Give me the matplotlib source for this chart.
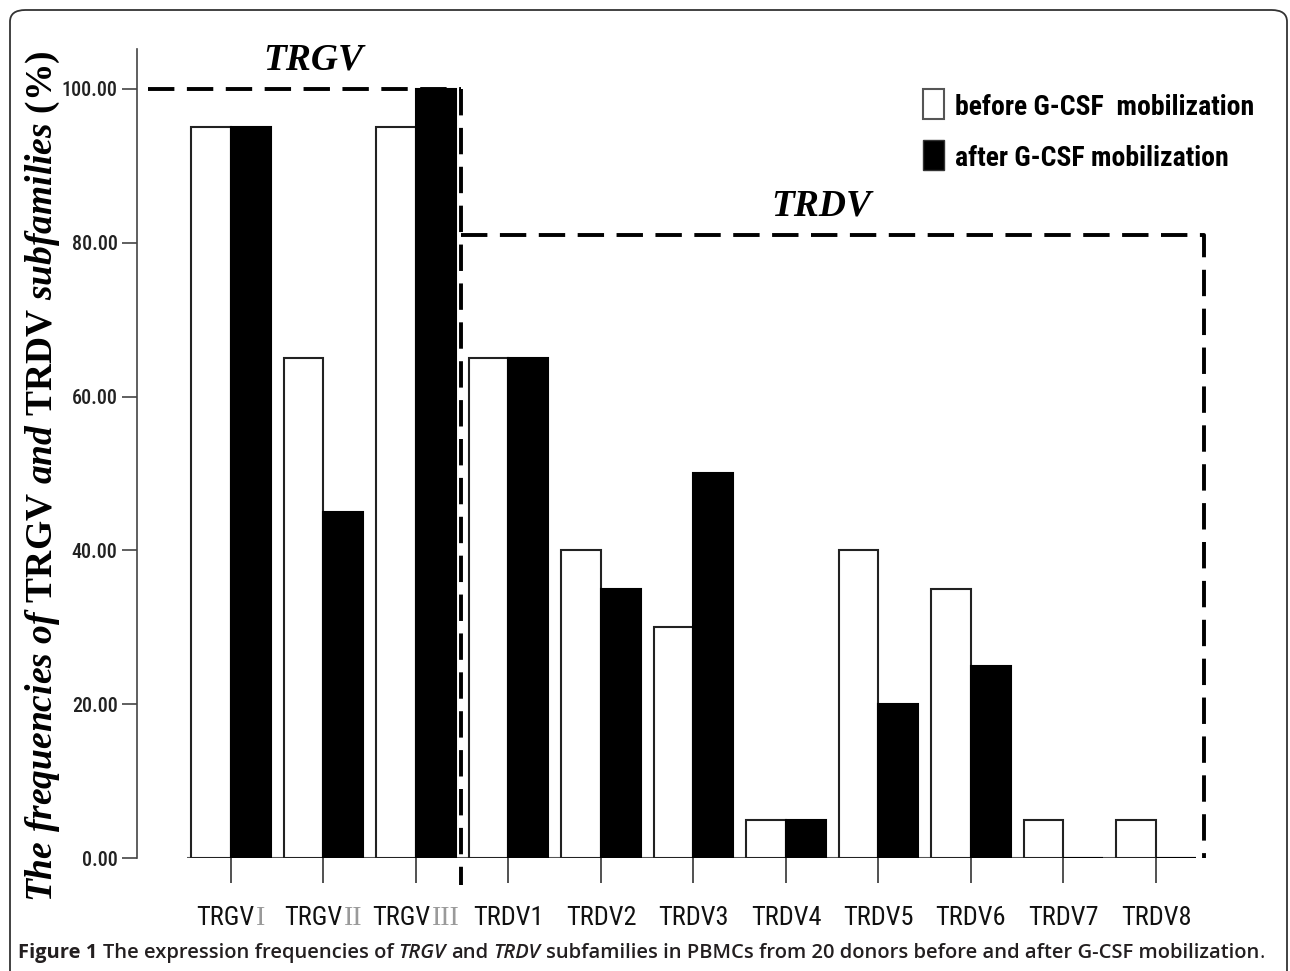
import matplotlib
matplotlib.use("Agg")
import matplotlib.pyplot as plt
from matplotlib.patches import Rectangle, FancyBboxPatch
import numpy as np

# --- data ---
categories = ["TRGV", "TRGV", "TRGV", "TRDV1", "TRDV2", "TRDV3", "TRDV4",
              "TRDV5", "TRDV6", "TRDV7", "TRDV8"]
numerals = ["I", "II", "III", "", "", "", "", "", "", "", ""]
before = [95, 65, 95, 65, 40, 30, 5, 40, 35, 5, 5]
after = [95, 45, 100, 65, 35, 50, 5, 20, 25, 0, 0]
series_labels = ["before G-CSF  mobilization", "after G-CSF mobilization"]
y_ticks = [0, 20, 40, 60, 80, 100]
trgv_level = 100
trdv_level = 81
group_names = ["TRGV", "TRDV"]

NARROW = ["Roboto Condensed", "DejaVu Sans"]

plt.rcParams["lines.scale_dashes"] = False
plt.rcParams["mathtext.fontset"] = "custom"
plt.rcParams["mathtext.rm"] = "Liberation Serif:bold"
plt.rcParams["mathtext.bf"] = "Liberation Serif:bold"
plt.rcParams["mathtext.it"] = "Liberation Serif:italic:bold"

W, H = 1290, 971
fig = plt.figure(figsize=(W / 100, H / 100), dpi=100)
renderer = fig.canvas.get_renderer()


def fx(px):
    return px / W


def fy(py):
    return 1 - py / H


# outer rounded frame
frame = FancyBboxPatch((fx(10), fy(1000)), fx(1287) - fx(10), fy(10) - fy(1000),
                       boxstyle="round,pad=0,rounding_size=0.012",
                       transform=fig.transFigure, facecolor="none",
                       edgecolor="#333333", lw=1.3)
fig.patches.append(frame)

# axes: x=0 at px 231, 92.5 px per category; y=0 at px 858, 7.69 px per unit
ax = fig.add_axes([fx(137), fy(858), fx(1215) - fx(137), (858 - 49) / H])
ax.set_xlim(-1.016, 10.638)
ax.set_ylim(0, 105.2)

x = np.arange(len(categories))
w = 0.43
ax.bar(x - w / 2, before, w, facecolor="white", edgecolor="#222222", lw=1.5, zorder=2)
ax.bar(x + w / 2, after, w, facecolor="black", edgecolor="black", lw=1.5, zorder=3)
ax.hlines(0, -0.48, 10.43, color="#555555", lw=1.5, zorder=1)

for s in ["top", "right", "bottom"]:
    ax.spines[s].set_visible(False)
ax.spines["left"].set_color("#444444")
ax.spines["left"].set_linewidth(1.2)

ax.set_yticks(y_ticks)
ax.set_yticklabels([f"{v:.2f}" for v in y_ticks], fontfamily=NARROW,
                   fontsize=14.5, fontweight="medium", color="#222222")
ax.tick_params(axis="y", length=11, width=1.2, color="#444444", pad=3)
ax.set_xticks(x)
ax.set_xticklabels([])
ax.tick_params(axis="x", length=18, width=1.2, color="#333333")

# dashed group boxes
dash = dict(color="black", lw=2.8, dashes=(19, 9), clip_on=False, zorder=4)
ax.plot([-0.9, 2.49], [trgv_level, trgv_level], **dash)
ax.plot([2.49, 2.49], [trgv_level, -3.5], **dash)
ax.plot([2.49, 10.52, 10.52], [trdv_level, trdv_level, 0], **dash)

ax.text(0.89, 102.5, group_names[0], fontfamily="Liberation Serif", fontweight="bold",
        fontstyle="italic", fontsize=27, ha="center", va="baseline")
ax.text(6.38, 83.6, group_names[1], fontfamily="Liberation Serif", fontweight="bold",
        fontstyle="italic", fontsize=27, ha="center", va="baseline")


def space_width(**kw):
    a = fig.text(0, 0, "x x", **kw)
    b = fig.text(0, 0, "xx", **kw)
    sw = a.get_window_extent(renderer).width - b.get_window_extent(renderer).width
    a.remove()
    b.remove()
    return sw


def draw_pieces(pieces, x0, y0, center=False):
    # pieces: (text, kwargs, gap_px_before)
    texts = []
    widths = []
    for s, kw, gap in pieces:
        t = fig.text(0, fy(y0), s, ha="left", va="baseline", **kw)
        texts.append(t)
        widths.append(t.get_window_extent(renderer).width)
    total = sum(widths) + sum(p[2] for p in pieces)
    xpos = x0 - total / 2 if center else x0
    for t, wd, p in zip(texts, widths, pieces):
        xpos += p[2]
        t.set_x(fx(xpos))
        xpos += wd


# x tick labels (TRGV with gray roman numerals)
lab_kw = dict(fontfamily=NARROW, fontsize=19, color="#111111")
num_kw = dict(fontfamily="Liberation Serif", fontsize=20, color="#9a9a9a")
for i, (c, n) in enumerate(zip(categories, numerals)):
    cx = 231 + 92.5 * i
    pieces = [(c, lab_kw, 0)]
    if n:
        pieces.append((n, num_kw, 2))
    draw_pieces(pieces, cx, 925, center=True)

# legend
leg_kw = dict(fontfamily=NARROW, fontweight="bold", fontsize=20, color="black")
fig.patches.append(Rectangle((fx(923), fy(119)), fx(944) - fx(923), fy(89) - fy(119),
                             transform=fig.transFigure, facecolor="white",
                             edgecolor="#555555", lw=1.5))
fig.patches.append(Rectangle((fx(923), fy(170)), fx(944) - fx(923), fy(140) - fy(170),
                             transform=fig.transFigure, facecolor="black",
                             edgecolor="#333333", lw=1.0))
fig.text(fx(955), fy(115), series_labels[0], ha="left", va="baseline", **leg_kw)
fig.text(fx(955), fy(166), series_labels[1], ha="left", va="baseline", **leg_kw)

# y label with mixed italic / upright
ylabel = (r"$\mathit{The\ frequencies\ of\ }\mathrm{TRGV}\ \mathit{and}\ "
          r"\mathrm{TRDV}\ \mathit{subfamilies}\ \mathrm{(\%)}$")
fig.text(fx(43), fy(476), ylabel, rotation=90, ha="center", va="center", fontsize=27)

# caption
cap = dict(fontfamily="Open Sans", fontsize=14.5, color="#231f20")
sw = space_width(fontweight="semibold", **cap)
caption = [
    ("Figure 1", dict(fontweight="bold", **cap), 0),
    ("The expression frequencies of", dict(fontweight="semibold", **cap), sw),
    ("TRGV", dict(fontweight="semibold", fontstyle="italic", **cap), sw),
    ("and", dict(fontweight="semibold", **cap), sw),
    ("TRDV", dict(fontweight="semibold", fontstyle="italic", **cap), sw),
    ("subfamilies in PBMCs from 20 donors before and after G-CSF mobilization",
     dict(fontweight="semibold", **cap), sw),
    (".", dict(fontweight="normal", **cap), 0),
]
draw_pieces(caption, 18, 958)

fig.savefig("out.png", dpi=100)
